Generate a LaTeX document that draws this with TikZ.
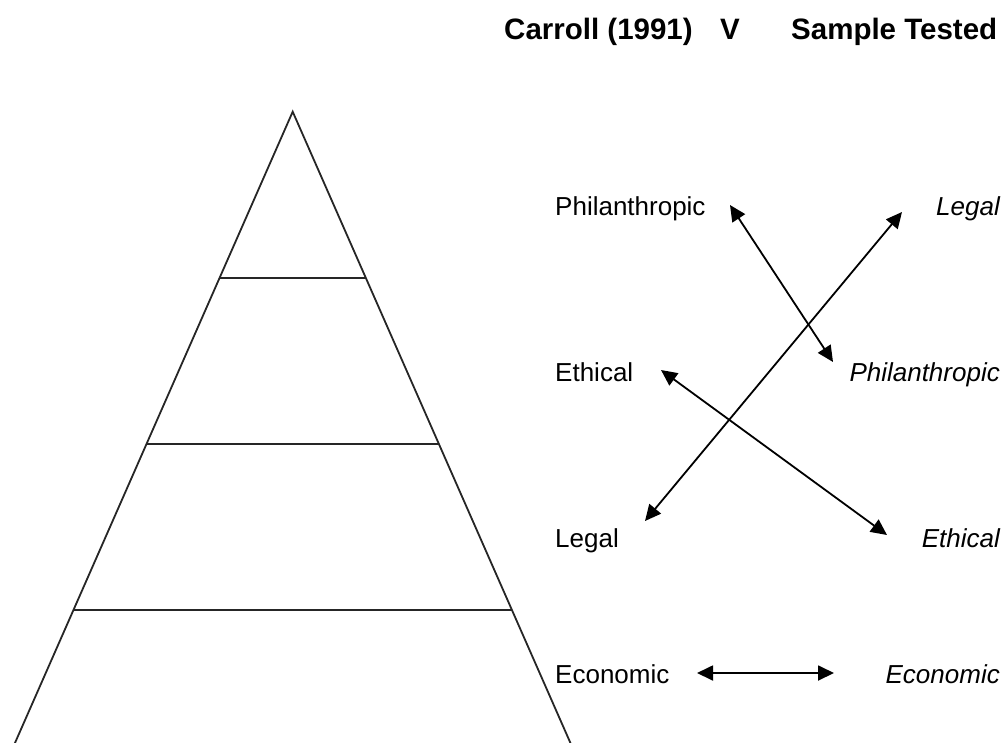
\documentclass[tikz,border=0pt]{standalone}
\usepackage{fontspec}
\setmainfont{Liberation Sans}
\usetikzlibrary{arrows.meta,calc}
\begin{document}
\begin{tikzpicture}[x=1pt,y=-1pt,
  lblL/.style={font=\fontsize{26}{30}\selectfont, inner sep=0pt, anchor=base west},
  lblR/.style={font=\fontsize{26}{30}\selectfont\itshape, inner sep=0pt, anchor=base east},
  head/.style={font=\fontsize{29.5}{33}\selectfont\bfseries, inner sep=0pt, anchor=base west},
  pyr/.style={line width=1.8pt, line join=miter, draw=black!85},
  link/.style={line width=1.8pt, {Triangle[length=16pt,width=15pt]}-{Triangle[length=16pt,width=15pt]}}]
\useasboundingbox (0,0) rectangle (1006,742);
\begin{scope}
\clip (0,0) rectangle (1006,742);
\coordinate (apex) at (292.7,111.7);
\coordinate (bl) at (0.3,776.3);
\coordinate (br) at (585.1,776.3);
\draw[pyr] (bl) -- (apex) -- (br);
\foreach \f in {0.25,0.5,0.75}{
  \draw[pyr] ($(apex)!\f!(bl)$) -- ($(apex)!\f!(br)$);
}
\end{scope}

% header
\node[head] (carroll) at (504,39) {Carroll (1991)};
\node[head] (vs) at (720,39) {V};
\node[head] (sample) at (791,39) {Sample Tested};

% left labels
\node[lblL] (phL) at (555,215) {Philanthropic};
\node[lblL] (etL) at (555,381) {Ethical};
\node[lblL] (leL) at (555,547) {Legal};
\node[lblL] (ecL) at (555,683) {Economic};

% right labels
\node[lblR] (leR) at (1000,215) {Legal};
\node[lblR] (phR) at (1000,381) {Philanthropic};
\node[lblR] (etR) at (1000,547) {Ethical};
\node[lblR] (ecR) at (1000,683) {Economic};

% arrow end points
\coordinate (phA) at (730,205);
\coordinate (phB) at (833,362);
\coordinate (leA) at (645,521);
\coordinate (leB) at (902,212);
\coordinate (etA) at (661,370);
\coordinate (etB) at (887,535);
\coordinate (ecA) at (697,673);
\coordinate (ecB) at (834,673);

\draw[link] (phA) -- (phB);
\draw[link] (leA) -- (leB);
\draw[link] (etA) -- (etB);
\draw[link] (ecA) -- (ecB);
\end{tikzpicture}
\end{document}
